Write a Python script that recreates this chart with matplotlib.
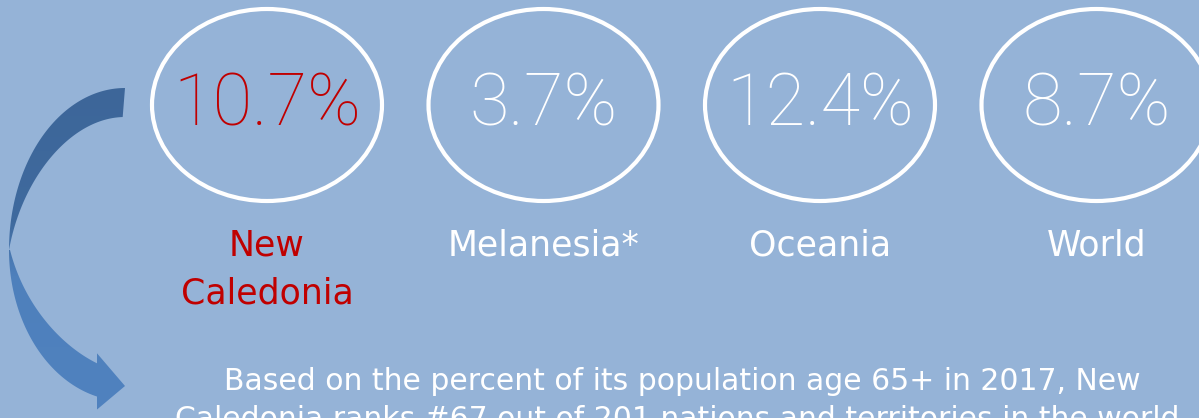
import matplotlib.pyplot as plt
import matplotlib.patches as patches
from matplotlib.path import Path
from matplotlib.colors import LinearSegmentedColormap
import numpy as np

regions = ['New\nCaledonia', 'Melanesia*', 'Oceania', 'World']
pct_65 = [10.7, 3.7, 12.4, 8.7]
highlight = [True, False, False, False]
note = ['Based on the percent of its population age 65+ in 2017, New',
        'Caledonia ranks #67 out of 201 nations and territories in the world.']

bg = '#95b3d7'
red = '#c00000'

fig = plt.figure(figsize=(11.99, 4.18), dpi=100)
fig.patch.set_facecolor(bg)
ax = fig.add_axes([0, 0, 1, 1])
ax.axis('off')

x0, step = 267, 276.5
for i in range(len(regions)):
    cx = x0 + i * step
    col = red if highlight[i] else 'white'
    ax.add_patch(patches.Ellipse((cx, 105), 230, 192, fill=False,
                                 edgecolor='white', linewidth=3))
    ax.text(cx, 106, '%.1f%%' % pct_65[i], color=col, fontsize=52,
            family='Roboto', weight='light', ha='center', va='center')
    ax.text(cx, 229, regions[i], color=col, fontsize=25, family='DejaVu Sans',
            ha='center', va='top', linespacing=1.5)

# curved arrow on the left: crescent body that thins at its leftmost point
cxa, cya = 125, 250
n = 60
f = np.linspace(0, 1, n)
# upper half, from the top end down to the leftmost point
th = np.radians(-90 + 90 * f)
d = 29 * np.cos(f * np.pi / 2)
up_out = np.c_[cxa - 116 * np.cos(th), cya + 162 * np.sin(th)]
up_in = np.c_[cxa - (116 - d) * np.cos(th), cya + (162 - d) * np.sin(th)]
# lower half, from the leftmost point to the head base
d2 = 1 + 30 * np.sin(f * np.pi / 2)
tho = np.arccos(28 / 116) * f
thi = np.arccos(28 / 85) * f
lo_out = np.c_[cxa - 116 * np.cos(tho), cya + 151 * np.sin(tho)]
lo_in = np.c_[cxa - (116 - d2) * np.cos(thi), cya + (151 - d2) * np.sin(thi)]
ox, oy = lo_out[-1]
ix, iy = lo_in[-1]
head = [(ox, oy + 13), (125, 386), (ix, iy - 10)]
verts = list(up_out) + list(lo_out[1:]) + head + list(lo_in[::-1]) + list(up_in[::-1][:-1])
codes = [Path.MOVETO] + [Path.LINETO] * (len(verts) - 1) + [Path.CLOSEPOLY]
clip = patches.PathPatch(Path(verts + [verts[0]], codes), facecolor='none', edgecolor='none')
ax.add_patch(clip)
grad = np.linspace(0, 1, 256).reshape(-1, 1)
cmap = LinearSegmentedColormap.from_list(
    'arr', [(0, '#3d6699'), (0.42, '#3f6a9e'), (0.58, '#4e80bc'), (1, '#5082bf')])
im = ax.imshow(grad, cmap=cmap, extent=(0, 140, 418, 80), aspect='auto', zorder=1)
im.set_clip_path(clip)

ax.set_xlim(0, 1199)
ax.set_ylim(418, 0)

ax.text(682, 381, note[0], color='white', fontsize=21.5, family='DejaVu Sans',
        ha='center', va='center')
ax.text(682, 419, note[1], color='white', fontsize=21.5, family='DejaVu Sans',
        ha='center', va='center')

fig.savefig('out.png', dpi=100, facecolor=bg)
